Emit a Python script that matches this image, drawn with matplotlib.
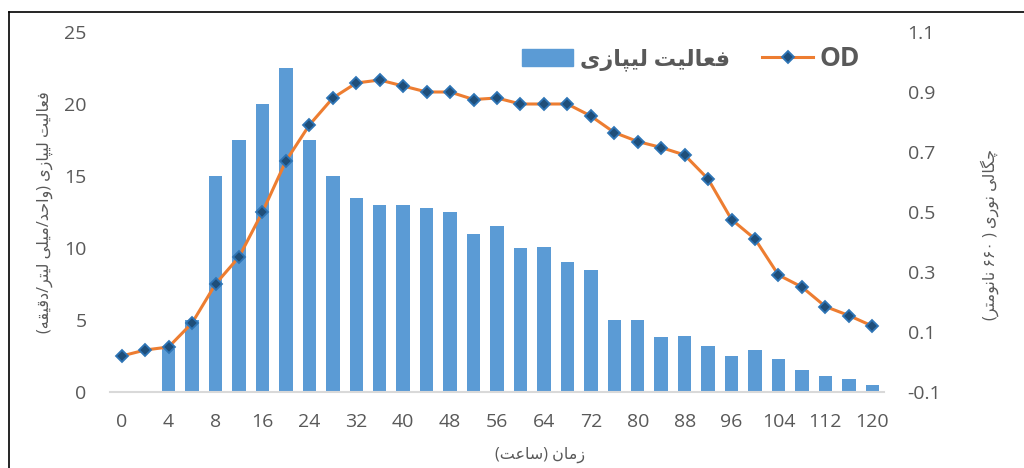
import re
import numpy as np
import matplotlib
matplotlib.use("Agg")
import matplotlib.pyplot as plt
from matplotlib.lines import Line2D
from matplotlib.patches import Patch

plt.rcParams['font.family'] = ['Open Sans', 'DejaVu Sans']
plt.rcParams['axes.unicode_minus'] = False

# داده‌ها
hours = [0, 2, 4, 6, 8, 12, 16, 20, 24, 28, 32, 36, 40, 44, 48, 52, 56, 60,
         64, 68, 72, 76, 80, 84, 88, 92, 96, 100, 104, 108, 112, 116, 120]
lipase = [0, 0, 3.0, 5.0, 15.0, 17.5, 20.0, 22.5, 17.5, 15.0, 13.5, 13.0, 13.0,
          12.8, 12.5, 11.0, 11.5, 10.0, 10.1, 9.0, 8.5, 5.0, 5.0, 3.8, 3.9,
          3.2, 2.5, 2.9, 2.3, 1.5, 1.1, 0.9, 0.5]
od = [0.02, 0.04, 0.05, 0.13, 0.26, 0.35, 0.50, 0.67, 0.79, 0.88, 0.93, 0.94,
      0.92, 0.90, 0.90, 0.875, 0.88, 0.86, 0.86, 0.86, 0.82, 0.765, 0.735,
      0.715, 0.69, 0.61, 0.475, 0.41, 0.29, 0.25, 0.185, 0.155, 0.12]
label_hours = [0, 4, 8, 16, 24, 32, 40, 48, 56, 64, 72, 80, 88, 96, 104, 112, 120]

TXT_BAR = "فعالیت لیپازی"
TXT_YL = "فعالیت لیپازی (واحد/میلی لیتر/دقیقه)"
TXT_YR = "چگالی نوری ( ۶۶۰ نانومتر)"
TXT_X = "زمان (ساعت)"

# شکل‌دهی ساده حروف فارسی (بدون کتابخانه جانبی)
FORMS = {
    'ا': ('\uFE8D', '\uFE8E', None, None),
    'د': ('\uFEA9', '\uFEAA', None, None),
    'ر': ('\uFEAD', '\uFEAE', None, None),
    'ز': ('\uFEAF', '\uFEB0', None, None),
    'و': ('\uFEED', '\uFEEE', None, None),
    'پ': ('\uFB56', '\uFB57', '\uFB58', '\uFB59'),
    'ت': ('\uFE95', '\uFE96', '\uFE97', '\uFE98'),
    'چ': ('\uFB7A', '\uFB7B', '\uFB7C', '\uFB7D'),
    'ح': ('\uFEA1', '\uFEA2', '\uFEA3', '\uFEA4'),
    'س': ('\uFEB1', '\uFEB2', '\uFEB3', '\uFEB4'),
    'ع': ('\uFEC9', '\uFECA', '\uFECB', '\uFECC'),
    'ف': ('\uFED1', '\uFED2', '\uFED3', '\uFED4'),
    'ق': ('\uFED5', '\uFED6', '\uFED7', '\uFED8'),
    'گ': ('\uFB92', '\uFB93', '\uFB94', '\uFB95'),
    'ل': ('\uFEDD', '\uFEDE', '\uFEDF', '\uFEE0'),
    'م': ('\uFEE1', '\uFEE2', '\uFEE3', '\uFEE4'),
    'ن': ('\uFEE5', '\uFEE6', '\uFEE7', '\uFEE8'),
    'ه': ('\uFEE9', '\uFEEA', '\uFEEB', '\uFEEC'),
    'ی': ('\uFBFC', '\uFBFD', '\uFBFE', '\uFBFF'),
}


def fa(text):
    out = []
    for i, ch in enumerate(text):
        if ch not in FORMS:
            out.append(ch)
            continue
        iso, fin, ini, med = FORMS[ch]
        prev = text[i - 1] if i > 0 else ''
        nxt = text[i + 1] if i + 1 < len(text) else ''
        jp = prev in FORMS and FORMS[prev][2] is not None
        jn = nxt in FORMS and ini is not None
        if jp and jn:
            out.append(med)
        elif jp:
            out.append(fin)
        elif jn:
            out.append(ini)
        else:
            out.append(iso)
    mirror = {'(': ')', ')': '('}
    vis = ''.join(mirror.get(c, c) for c in reversed(''.join(out)))
    return re.sub(r'[0-9\u06F0-\u06F9]+', lambda m: m.group(0)[::-1], vis)


GREY = '#595959'
W, H = 1024, 468
fig = plt.figure(figsize=(W / 100, H / 100), dpi=100)
ax = fig.add_axes([110 / W, 1 - 392 / H, (884 - 110) / W, (392 - 32) / H])
ax2 = ax.twinx()

x = np.arange(len(hours))
ax.bar(x, lipase, width=0.57, color='#5B9BD5', zorder=2)
ax2.plot(x, od, color='#ED7D31', lw=2.2, marker='D', ms=6.2,
         mfc='#1F4E79', mec='#2E75B6', mew=1.3, zorder=3)

ax.set_xlim(-0.5, len(hours) - 0.5)
ax.set_ylim(0, 25)
ax2.set_ylim(-0.1, 1.1)
ax.set_yticks(np.arange(0, 26, 5))
r_ticks = np.round(np.arange(-0.1, 1.11, 0.2), 1)
ax2.set_yticks(r_ticks)
ax2.set_yticklabels([f"{v:.1f}" for v in r_ticks])

tick_pos = [hours.index(h) for h in label_hours]
ax.set_xticks(tick_pos)
ax.set_xticklabels([str(h) for h in label_hours])

for a in (ax, ax2):
    for s in a.spines.values():
        s.set_visible(False)
    a.tick_params(length=0, labelsize=14, colors=GREY)
ax.spines['bottom'].set_visible(True)
ax.spines['bottom'].set_color('#D9D9D9')
ax.spines['bottom'].set_linewidth(1.5)
ax.tick_params(axis='x', pad=15)
ax.tick_params(axis='y', pad=17)
ax2.tick_params(axis='y', pad=17)

fig.text(45 / W, 1 - 212 / H, fa(TXT_YL), rotation=90, ha='center', va='center',
         fontsize=11.5, color=GREY)
fig.text(990 / W, 1 - 234 / H, fa(TXT_YR), rotation=90, ha='center', va='center',
         fontsize=11.5, color=GREY)
fig.text(540 / W, 1 - 455 / H, fa(TXT_X), ha='center', va='center',
         fontsize=11.5, color=GREY)

handles = [Patch(color='#5B9BD5'),
           Line2D([], [], color='#ED7D31', lw=2.2, marker='D', ms=6.2,
                  mfc='#1F4E79', mec='#2E75B6', mew=1.3)]
leg = fig.legend(handles, [fa(TXT_BAR), 'OD'], loc='center left',
                 bbox_to_anchor=(522 / W, 1 - 58 / H), ncol=2, frameon=False,
                 borderpad=0, borderaxespad=0, handlelength=2.3, handleheight=0.8,
                 handletextpad=0.3, columnspacing=1.45,
                 prop={'family': ['Open Sans', 'DejaVu Sans'], 'weight': 'bold', 'size': 16},
                 labelcolor=GREY)
leg.get_texts()[1].set_fontsize(19)

# قاب بیرونی
fig.add_artist(Line2D([8.7 / W, 8.7 / W], [0, 1 - 11.7 / H], color='black', lw=1.2))
fig.add_artist(Line2D([8.7 / W, 1], [1 - 11.7 / H, 1 - 11.7 / H], color='black', lw=1.2))

fig.savefig("out.png", dpi=100)
